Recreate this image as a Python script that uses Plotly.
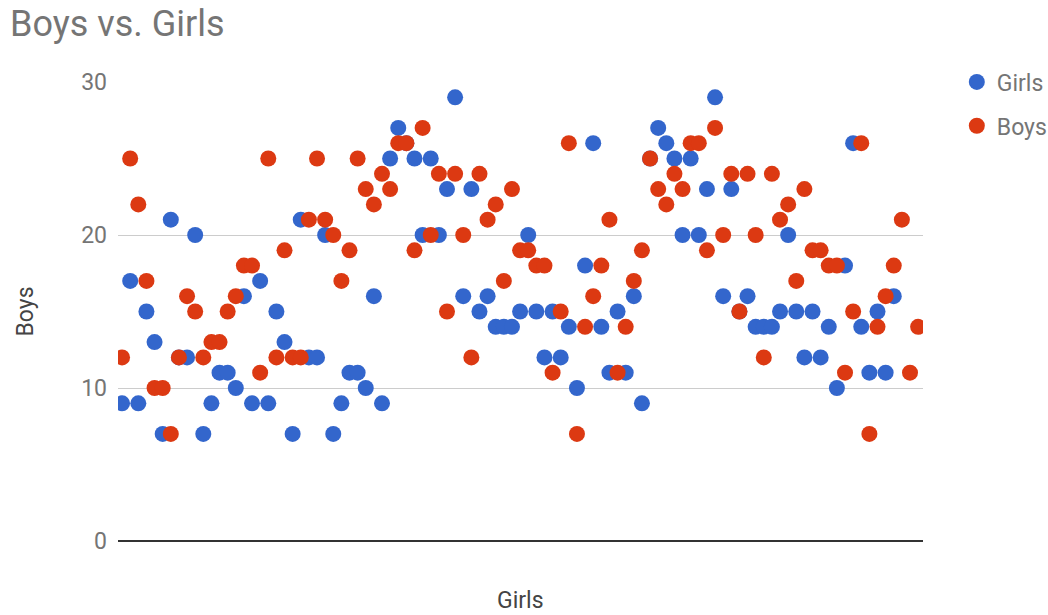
import plotly.graph_objects as go

# Row-by-row counts for each group (row order is the x position)
girls = [
    9, 17, 9, 15, 13, 7, 21, 12, 12, 20, 7, 9, 11, 11, 10, 16,
    9, 17, 9, 15, 13, 7, 21, 12, 12, 20, 7, 9, 11, 11, 10, 16,
    9, 25, 27, 26, 25, 20, 25, 20, 23, 29, 16, 23, 15, 16, 14, 14,
    14, 15, 20, 15, 12, 15, 12, 14, 10, 18, 26, 14, 11, 15, 11, 16,
    9, 25, 27, 26, 25, 20, 25, 20, 23, 29, 16, 23, 15, 16, 14, 14,
    14, 15, 20, 15, 12, 15, 12, 14, 10, 18, 26, 14, 11, 15, 11, 16,
]
boys = [
    12, 25, 22, 17, 10, 10, 7, 12, 16, 15, 12, 13, 13, 15, 16, 18,
    18, 11, 25, 12, 19, 12, 12, 21, 25, 21, 20, 17, 19, 25, 23, 22,
    24, 23, 26, 26, 19, 27, 20, 24, 15, 24, 20, 12, 24, 21, 22, 17,
    23, 19, 19, 18, 18, 11, 15, 26, 7, 14, 16, 18, 21, 11, 14, 17,
    19, 25, 23, 22, 24, 23, 26, 26, 19, 27, 20, 24, 15, 24, 20, 12,
    24, 21, 22, 17, 23, 19, 19, 18, 18, 11, 15, 26, 7, 14, 16, 18,
    21, 11, 14,
]
y_ticks = [0, 10, 20, 30]

BLUE = "#3366CC"
RED = "#DC3912"
FONT = "Roboto"

fig = go.Figure()
fig.add_trace(go.Scatter(
    x=list(range(len(girls))), y=girls, mode="markers", name="Girls",
    legendgroup="g", marker=dict(color=BLUE, size=16, line=dict(width=0)),
))
fig.add_trace(go.Scatter(
    x=list(range(len(boys))), y=boys, mode="markers", name="Boys",
    legendgroup="b", marker=dict(color=RED, size=16, line=dict(width=0)),
))

fig.update_layout(
    width=1048, height=615,
    margin=dict(l=118, r=125, t=82, b=74, pad=0, autoexpand=False),
    paper_bgcolor="white", plot_bgcolor="white",
    font=dict(family=FONT, color="#757575", size=23),
    title=dict(
        text="Boys vs. Girls", x=10 / 1048, xanchor="left",
        y=1 - 23 / 615, yanchor="middle", yref="container",
        font=dict(family=FONT, size=36, color="#757575"),
    ),
    showlegend=True,
    legend=dict(
        x=1.042, xanchor="left", y=1.047, yanchor="top",
        font=dict(family=FONT, size=23, color="#757575"),
        tracegroupgap=11, itemsizing="trace",
        bgcolor="rgba(0,0,0,0)",
    ),
    xaxis=dict(
        range=[-0.5, 98.6], showgrid=False, zeroline=False,
        showticklabels=False, ticks="", showline=False,
    ),
    yaxis=dict(
        range=[0, 30], tickvals=y_ticks, ticktext=[str(v) for v in y_ticks],
        showgrid=True, gridcolor="#CCCCCC", gridwidth=1,
        zeroline=True, zerolinecolor="#333333", zerolinewidth=2,
        showline=False, ticks="", ticklabelstandoff=10,
        tickfont=dict(family=FONT, size=23, color="#757575"),
    ),
    annotations=[
        dict(text="Boys", xref="paper", yref="paper", x=0, y=0.5,
             xshift=-93, textangle=-90, showarrow=False,
             xanchor="center", yanchor="middle",
             font=dict(family=FONT, size=23, color="#444444")),
        dict(text="Girls", xref="paper", yref="paper", x=0.5, y=0,
             yshift=-59, showarrow=False, xanchor="center", yanchor="middle",
             font=dict(family=FONT, size=23, color="#444444")),
    ],
)

fig.write_html("out.html")
